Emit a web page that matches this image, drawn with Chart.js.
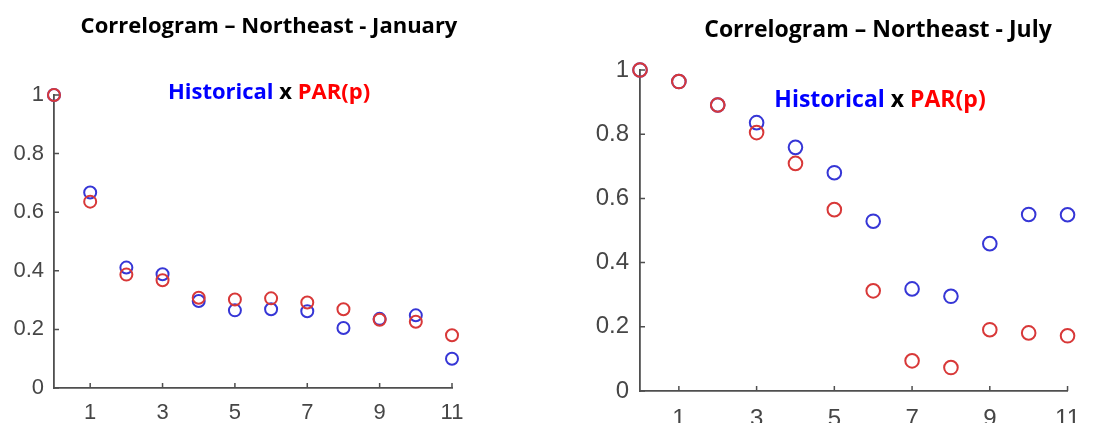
<!DOCTYPE html>
<html>
<head>
<meta charset="utf-8">
<script src="https://cdn.jsdelivr.net/npm/chart.js@4/dist/chart.umd.min.js"></script>
<style>
  html, body { margin: 0; padding: 0; background: #fff; }
  body { width: 1094px; height: 423px; position: relative; overflow: hidden; }
  .panel { position: absolute; top: 0; height: 423px; }
  #p1 { left: 0; width: 480px; }
  #p2 { left: 560px; width: 534px; }
</style>
</head>
<body>
<div class="panel" id="p1"><canvas id="c1"></canvas></div>
<div class="panel" id="p2"><canvas id="c2"></canvas></div>
<script>
// Autocorrelation by lag, historical series vs. PAR(p) model
const lags = [0, 1, 2, 3, 4, 5, 6, 7, 8, 9, 10, 11];
const janHistorical = [1.00, 0.667, 0.411, 0.388, 0.297, 0.265, 0.269, 0.262, 0.205, 0.236, 0.248, 0.100];
const janPAR        = [1.00, 0.636, 0.387, 0.368, 0.308, 0.302, 0.306, 0.292, 0.269, 0.233, 0.226, 0.180];
const julHistorical = [1.00, 0.964, 0.891, 0.836, 0.759, 0.680, 0.529, 0.318, 0.295, 0.459, 0.550, 0.549];
const julPAR        = [1.00, 0.964, 0.891, 0.805, 0.709, 0.565, 0.312, 0.094, 0.073, 0.191, 0.181, 0.172];
const xTickLabels = [1, 3, 5, 7, 9, 11];
const yTickLabels = [0, 0.2, 0.4, 0.6, 0.8, 1];
const titleJan = 'Correlogram – Northeast - January';
const titleJul = 'Correlogram – Northeast - July';
const legendParts = [['Historical', '#0000ff'], [' x ', '#000000'], ['PAR(p)', '#ff0000']];

const AXIS_COLOR = '#4f4f4f';
const BLUE = '#3636d6';
const RED = '#d83838';

function toPoints(values) {
  return lags.map((lag, i) => ({ x: lag, y: values[i] }));
}

// Title and coloured series caption, plus MATLAB-style inward tick marks
const decorPlugin = {
  id: 'decor',
  afterDraw(chart, args, opts) {
    const ctx = chart.ctx;
    const xs = chart.scales.x, ys = chart.scales.y;
    ctx.save();
    ctx.strokeStyle = AXIS_COLOR;
    ctx.lineWidth = 1.5;
    ctx.beginPath();
    xTickLabels.forEach(v => {
      const px = xs.getPixelForValue(v);
      ctx.moveTo(px, ys.bottom);
      ctx.lineTo(px, ys.bottom - 5);
    });
    yTickLabels.forEach(v => {
      const py = ys.getPixelForValue(v);
      ctx.moveTo(xs.left, py);
      ctx.lineTo(xs.left + 5, py);
    });
    ctx.stroke();

    ctx.textBaseline = 'middle';
    ctx.textAlign = 'center';
    ctx.fillStyle = '#000';
    ctx.font = 'bold ' + opts.titleSize + 'px "Open Sans", "Noto Sans", sans-serif';
    ctx.fillText(opts.title, opts.titleX, opts.titleY);

    ctx.font = 'bold ' + opts.capSize + 'px "Open Sans", "Noto Sans", sans-serif';
    const widths = legendParts.map(p => ctx.measureText(p[0]).width);
    const total = widths.reduce((a, b) => a + b, 0);
    let x = opts.capX - total / 2;
    ctx.textAlign = 'left';
    legendParts.forEach((p, i) => {
      ctx.fillStyle = p[1];
      ctx.fillText(p[0], x, opts.capY);
      x += widths[i];
    });
    ctx.restore();
  }
};

function makeChart(id, hist, par, geo) {
  return new Chart(document.getElementById(id), {
    type: 'scatter',
    data: {
      datasets: [
        { label: 'PAR(p)', data: toPoints(par), order: 0,
          borderColor: RED, backgroundColor: 'rgba(0,0,0,0)',
          pointRadius: geo.r, pointBorderWidth: 2, pointHoverRadius: geo.r, clip: false },
        { label: 'Historical', data: toPoints(hist), order: 1,
          borderColor: BLUE, backgroundColor: 'rgba(0,0,0,0)',
          pointRadius: geo.r, pointBorderWidth: 2, pointHoverRadius: geo.r, clip: false }
      ]
    },
    options: {
      responsive: true,
      maintainAspectRatio: false,
      animation: false,
      events: [],
      layout: { padding: { top: geo.top, right: geo.right, bottom: 0, left: 0 } },
      plugins: {
        legend: { display: false },
        tooltip: { enabled: false },
        decor: geo.decor
      },
      scales: {
        x: {
          type: 'linear', min: 0, max: 11,
          afterBuildTicks: s => { s.ticks = xTickLabels.map(v => ({ value: v })); },
          afterFit: s => { s.height = geo.xh; },
          grid: { display: false, drawTicks: false, tickLength: 0 },
          border: { display: true, color: AXIS_COLOR, width: 1.8 },
          ticks: { color: '#464646', padding: geo.xpad, maxRotation: 0, autoSkip: false,
                   font: { family: '"Liberation Sans", Arial, sans-serif', size: geo.fs } }
        },
        y: {
          type: 'linear', min: 0, max: 1,
          afterBuildTicks: s => { s.ticks = yTickLabels.map(v => ({ value: v })); },
          afterFit: s => { s.width = geo.left; },
          grid: { display: false, drawTicks: false, tickLength: 0 },
          border: { display: true, color: AXIS_COLOR, width: 1.8 },
          ticks: { color: '#464646', padding: geo.ypad, autoSkip: false,
                   callback: v => String(v),
                   font: { family: '"Liberation Sans", Arial, sans-serif', size: geo.fs } }
        }
      }
    },
    plugins: [decorPlugin]
  });
}

makeChart('c1', janHistorical, janPAR, {
  top: 95, right: 28, left: 54, xh: 35, xpad: 12, ypad: 10, fs: 22, r: 6,
  decor: { title: titleJan, titleX: 269, titleY: 27, titleSize: 22,
           capX: 269, capY: 93, capSize: 22 }
});
makeChart('c2', julHistorical, julPAR, {
  top: 70, right: 15, left: 80, xh: 32, xpad: 14, ypad: 11, fs: 24, r: 6.8,
  decor: { title: titleJul, titleX: 878 - 560, titleY: 30, titleSize: 23,
           capX: 880 - 560, capY: 100, capSize: 23 }
});
</script>
</body>
</html>
